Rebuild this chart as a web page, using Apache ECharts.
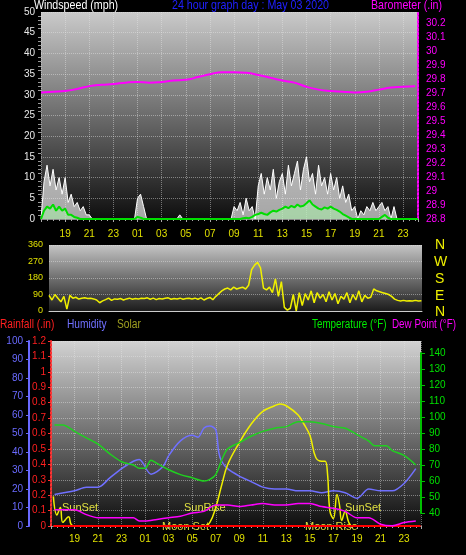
<!DOCTYPE html>
<html><head><meta charset="utf-8">
<script src="https://cdn.jsdelivr.net/npm/echarts@6/dist/echarts.min.js"></script>
<style>html,body{margin:0;padding:0;background:#000}#c{width:466px;height:555px}</style>
</head><body><div id="c"></div>
<script>
// time base: hours since 00:00 May 02; 15-minute samples start at 17:00
const sampleStart = 17, sampleStep = 0.25;
const windGust = [0,9,13,8,12,7,10,6,10,4,6,3,4,2,3,1,
 1,0,0,0,0,0,0,0,0,0,0,0,0,0,0,0,
 5,6,3,0,0,0,0,0,0,0,0,0,0,0,1,0,
 0,0,0,0,0,0,0,0,0,0,0,0,0,0,0,0,
 3,2,4,1,5,2,3,0,8,11,6,10,7,12,5,9,
 11,6,13,8,11,14,7,12,15,9,11,6,13,8,10,6,
 11,7,10,5,8,4,6,2,3,0,2,1,3,2,4,2,
 3,4,2,3,0,3,0,0,0,0,0,0,0,0];
const windAvg = [0,2,3,2.5,3.5,2,3,2,2.5,1,1,0.5,0.3,0,0,0,
 0,0,0,0,0,0,0,0,0,0,0,0,0,0,0,0,
 0.5,0.3,0,0,0,0,0,0,0,0,0,0,0,0,0,0,
 0,0,0,0,0,0,0,0,0,0,0,0,0,0,0,0,
 0,0,0,0.2,0.3,0.2,0.5,1,1.2,1.5,1.2,1,1.6,2,1.8,2.2,
 2.5,3,2.6,3.2,2.8,3.5,3,3.2,3.8,4.5,3.5,3,2.5,2.3,2.8,2.5,
 3,2.5,2.2,1.8,1.2,0.8,0.4,0,0,0,0,0,0,0,0,0,
 0,0.5,1,0.3,0,0,0,0,0,0,0,0,0,0];
const windDir = [85,60,90,70,50,80,10,85,70,75,65,70,72,68,70,66,
 60,45,55,62,70,58,66,64,68,60,66,70,64,68,66,70,
 68,72,64,70,62,68,66,70,72,64,68,66,70,64,68,70,
 66,70,64,72,60,68,74,62,80,95,110,120,125,115,130,120,
 125,130,120,140,225,250,265,235,125,115,130,100,175,80,160,20,
 5,15,90,0,100,30,95,60,110,45,100,70,90,50,105,60,
 95,40,80,65,100,45,90,60,110,50,85,70,75,120,110,105,
 100,95,90,80,65,58,55,58,55,56,55,58,55,56];
// hourly barometer from 17:00
const baro = [29.705,29.71,29.715,29.73,29.75,29.76,29.765,29.775,29.78,29.775,29.78,29.79,29.795,29.815,29.835,29.85,29.85,29.845,29.83,29.81,29.79,29.775,29.745,29.725,29.715,29.71,29.705,29.71,29.725,29.74,29.745,29.75];
const humT = [17.3,19,20,21,22,23,24,24.5,25.5,26.5,27,28,29,29.5,30,30.5,31,31.25,31.5,32,33,34,35,36,37,38,39,40,41,42,43,44,45,46,47,48];
const humV = [17,19,21,21,26,31,35,36,28,32,38,46,49,48,53,54,52,40,35,31,27,24,21,20,20,19,19,18,19,18,15,20,19,19,23,31];
const tempT = [17.3,18,19,20,21,22,23,24,24.5,25,25.5,26,27,28,29,30,30.5,31,31.5,32,33,33.5,34,35,36,37,38,39,40,41,42,43,44,44.5,45,45.5,46,47,48];
const tempV = [95,95,91,87,83,77,72,70,68,68,73,71,67,64,62,60,61,64,73,80,84,86,88,91,93,94,97,97,96,94,93,89,85,82,82,82,79,76,70];
const dewT = [17.3,19,20,21,22,23,24,24.5,25,26,27,28,29,30,31,32,33,34,35,36,37,38,39,40,41,42,43,44,45,46,47,48];
const dewV = [42,42,39,37,37,37,37,35,35,36,37,38,40,41,45,45,44,45,46,45,45,46,46,44,43,41,37,37,33,32,34,35];
const solarT = [17.2,17.5,17.8,18,18.5,18.7,19,30,30.5,31,31.5,32,33,34,35,36,36.5,37,38,38.5,39,39.5,40,40.3,40.5,40.7,41,41.3,41.5,41.7,42,42.3,42.6,48];
const solarV = [16,6,10,2,5,1,0,0,2,10,22,33,45,55,62,65,66,65,60,55,49,37,35,35,28,8,4,17,12,3,8,2,0,0];
const rainT = [17.2,48.4], rainV = [0,0];

const pair = (t,v)=>t.map((x,i)=>[x,v[i]]);
const samp = v=>v.map((y,i)=>[sampleStart+i*sampleStep,y]);
const hourly = v=>v.map((y,i)=>[17+i,y]);
const F = 'Liberation Sans';
const grad = (a,b)=>({type:'linear',x:0,y:0,x2:0,y2:1,colorStops:[{offset:0,color:a},{offset:1,color:b}]});
const dotted = {show:true,lineStyle:{color:'rgba(230,230,230,0.45)',type:'dotted',width:1}};
const hr = v=>String(Math.round(v)%24).padStart(2,'0');
const txt = (x,y,t,c,s,sx)=>({type:'text',x:x,y:y,scaleX:sx||1,style:{text:t,fill:c,font:(s||12)+'px '+F}});

const chart = echarts.init(document.getElementById('c'));
chart.setOption({
 backgroundColor:'#000', animation:false,
 grid:[
  {left:41,right:48,top:12,bottom:336,show:true,borderWidth:0,backgroundColor:grad('#cacaca','#0e0e0e')},
  {left:49,right:44,top:245,bottom:244,show:true,borderWidth:0,backgroundColor:grad('#c4c4c4','#1c1c1c')},
  {left:51,right:45,top:341,bottom:29,show:true,borderWidth:0,backgroundColor:grad('#d2d2d2','#0e0e0e')},
  {left:51,right:45,top:353,bottom:42,show:false}
 ],
 xAxis:[
  {gridIndex:0,type:'value',min:17,max:48.24,interval:2,axisLabel:{color:'#e0e000',fontSize:10,fontFamily:F,margin:10,formatter:hr,showMinLabel:false,showMaxLabel:false},axisLine:{lineStyle:{color:'#888'}},axisTick:{show:true,length:3,lineStyle:{color:'#aaa'}},minorTick:{show:true,splitNumber:4,length:2,lineStyle:{color:'#aaa'}},splitLine:dotted},
  {gridIndex:1,type:'value',min:17,max:48.3,interval:2,axisLabel:{show:false},axisLine:{lineStyle:{color:'#ccc'}},axisTick:{show:false},splitLine:{show:false}},
  {gridIndex:2,type:'value',min:17,max:48.44,interval:2,axisLabel:{color:'#e0e000',fontSize:10,fontFamily:F,margin:8,formatter:hr,showMinLabel:false,showMaxLabel:false},axisLine:{lineStyle:{color:'#888'}},axisTick:{show:true,length:3,lineStyle:{color:'#aaa'}},minorTick:{show:true,splitNumber:4,length:2,lineStyle:{color:'#aaa'}},splitLine:dotted},
  {gridIndex:3,type:'value',min:17,max:48.44,show:false}
 ],
 yAxis:[
  {gridIndex:0,type:'value',min:0,max:50,interval:5,axisLabel:{color:'#e8e8e8',fontSize:10,fontFamily:F,margin:6},axisLine:{show:false},axisTick:{show:false},minorTick:{show:true,splitNumber:5,length:3,lineStyle:{color:'#999'}},splitLine:dotted},
  {gridIndex:0,type:'value',position:'right',min:28.8,max:30.28,interval:0.1,axisLabel:{color:'#ff00ff',fontSize:10,fontFamily:F,margin:8,showMaxLabel:false,formatter:v=>String(parseFloat(v.toFixed(1)))},axisLine:{show:true,lineStyle:{color:'#ff00ff',type:'dotted',width:2}},axisTick:{show:false},splitLine:{show:false}},
  {gridIndex:1,type:'value',min:0,max:360,interval:90,axisLabel:{color:'#e0e000',fontSize:9,fontFamily:F,margin:6},axisLine:{show:false},axisTick:{show:false},splitLine:dotted},
  {gridIndex:2,type:'value',position:'left',min:0,max:1.2,interval:0.1,axisLabel:{color:'#ff2020',fontSize:10,fontFamily:F,margin:5,formatter:v=>String(parseFloat(v.toFixed(1)))},axisLine:{show:true,lineStyle:{color:'#ff3030',type:'dotted',width:2}},axisTick:{show:true,length:3,lineStyle:{color:'#ff3030'}},splitLine:dotted},
  {gridIndex:2,type:'value',position:'left',min:0,max:100,interval:10,offset:22,axisLabel:{color:'#6a6aff',fontSize:10,fontFamily:F,margin:6},axisLine:{show:true,lineStyle:{color:'#6a6aff',width:2}},axisTick:{show:true,length:3,lineStyle:{color:'#6a6aff'}},splitLine:{show:false}},
  {gridIndex:3,type:'value',position:'right',min:40,max:140,interval:10,axisLabel:{color:'#00e000',fontSize:10,fontFamily:F,margin:8},axisLine:{show:true,lineStyle:{color:'#00c000',width:2}},axisTick:{show:true,length:4,lineStyle:{color:'#00c000'}},splitLine:{show:false}}
 ],
 series:[
  {type:'line',xAxisIndex:0,yAxisIndex:0,data:samp(windGust),symbol:'none',lineStyle:{color:'#ffffff',width:1},areaStyle:{color:'rgba(245,245,245,0.95)'}},
  {type:'line',xAxisIndex:0,yAxisIndex:0,data:samp(windAvg),symbol:'none',lineStyle:{color:'#00dd00',width:2},areaStyle:{color:'rgba(170,240,170,0.8)'}},
  {type:'line',xAxisIndex:0,yAxisIndex:1,data:hourly(baro),symbol:'none',smooth:true,lineStyle:{color:'#ff00ff',width:2}},
  {type:'line',xAxisIndex:1,yAxisIndex:2,data:samp(windDir),symbol:'none',lineStyle:{color:'#f0f000',width:1.5}},
  {type:'line',xAxisIndex:2,yAxisIndex:4,data:pair(humT,humV),symbol:'none',smooth:0.3,lineStyle:{color:'#7070ff',width:1.5}},
  {type:'line',xAxisIndex:2,yAxisIndex:4,data:pair(solarT,solarV),symbol:'none',smooth:0.4,lineStyle:{color:'#f0f000',width:1.5}},
  {type:'line',xAxisIndex:2,yAxisIndex:3,data:pair(rainT,rainV),symbol:'none',lineStyle:{color:'#ff0000',width:2},clip:false},
  {type:'line',xAxisIndex:3,yAxisIndex:5,data:pair(tempT,tempV),symbol:'none',smooth:0.3,clip:false,lineStyle:{color:'#20d020',width:1.5}},
  {type:'line',xAxisIndex:3,yAxisIndex:5,data:pair(dewT,dewV),symbol:'none',smooth:0.3,clip:false,lineStyle:{color:'#ff00ff',width:1.5}}
 ],
 graphic:[
  txt(34,-1,'Windspeed (mph)','#ffffff',13,0.82),
  txt(172,-1,'24 hour graph day : May 03 2020','#2020ff',13,0.82),
  txt(371,-1,'Barometer (.in)','#ff00ff',13,0.82),
  txt(435,238,'N','#f0f000',14), txt(434,255,'W','#f0f000',14), txt(435,272,'S','#f0f000',14), txt(435,289,'E','#f0f000',14), txt(435,305,'N','#f0f000',14),
  txt(0,319,'Rainfall (.in)','#ff2020',12,0.85),
  txt(67,319,'Humidity','#7070ff',12,0.85),
  txt(117,319,'Solar','#a0a020',12,0.85),
  txt(312,319,'Temperature (°F)','#00ee00',12,0.82),
  txt(392,319,'Dew Point (°F)','#ff00ff',12,0.82),
  txt(62,502,'SunSet','#e0e040',11), txt(184,502,'SunRise','#e0e040',11), txt(345,502,'SunSet','#e0e040',11),
  txt(162,521,'Moon Set','#e0e040',11), txt(305,521,'Moon Rise','#e0e040',11)
 ]
});
</script></body></html>
